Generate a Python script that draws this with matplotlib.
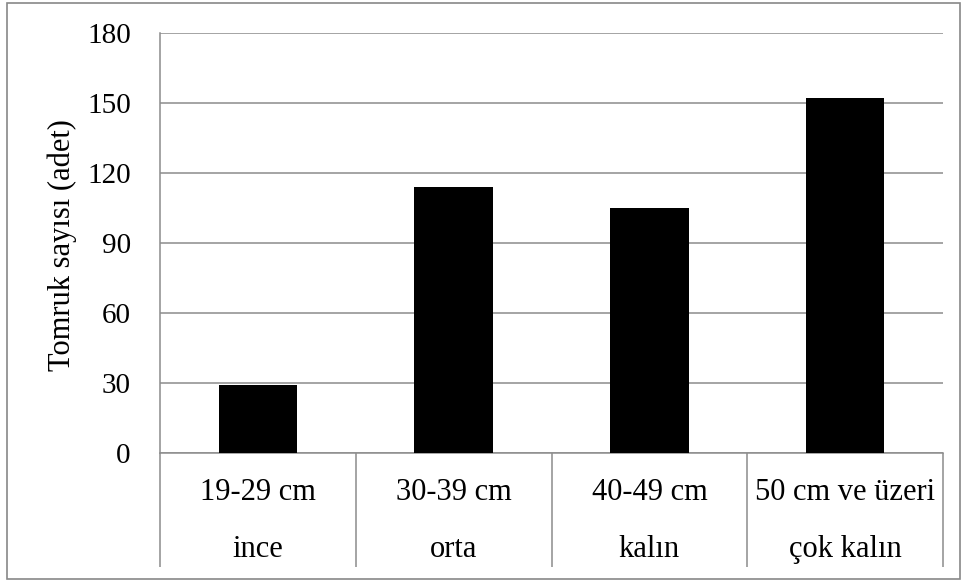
import matplotlib
matplotlib.use("Agg")
import matplotlib.pyplot as plt
from matplotlib.patches import Rectangle

# ── Data ─────────────────────────────────────────────────────────────────────
size_ranges = ["19-29 cm", "30-39 cm", "40-49 cm", "50 cm ve üzeri"]
size_names = ["ince", "orta", "kalın", "çok kalın"]
log_counts = [29, 114, 105, 152]
y_ticks = [0, 30, 60, 90, 120, 150, 180]

GRID = "#8c8c8c"
W, H = 965, 581
plt.rcParams["font.family"] = ["Liberation Serif", "DejaVu Serif"]

fig = plt.figure(figsize=(W / 100, H / 100), dpi=100, facecolor="white")
ax = fig.add_axes([160 / W, 1 - 453 / H, (943 - 160) / W, (453 - 33) / H])

x = list(range(len(log_counts)))
ax.bar(x, log_counts, width=0.4, color="black", zorder=3)

ax.set_xlim(-0.5, len(x) - 0.5)
ax.set_ylim(0, 180)
ax.set_yticks(y_ticks)
ax.tick_params(axis="y", length=0, pad=21, labelsize=21)
ax.grid(axis="y", color=GRID, linewidth=1.1, zorder=0)

# category boundaries as long downward ticks
ax.set_xticks([i - 0.5 for i in range(len(x) + 1)])
ax.set_xticklabels([])
ax.tick_params(axis="x", length=82, width=1.1, color=GRID, direction="out")
for i, (r, n) in enumerate(zip(size_ranges, size_names)):
    ax.text(i, -0.095, r, transform=ax.get_xaxis_transform(), ha="center",
            va="center", fontsize=22)
    ax.text(i, -0.23, n, transform=ax.get_xaxis_transform(), ha="center",
            va="center", fontsize=22)

for s in ["top", "right"]:
    ax.spines[s].set_visible(False)
for s in ["left", "bottom"]:
    ax.spines[s].set_color(GRID)
    ax.spines[s].set_linewidth(1.1)

fig.text(62 / W, 1 - 245 / H, "Tomruk sayısı (adet)", rotation=90,
         ha="center", va="center", fontsize=22)

# outer frame
fig.patches.append(Rectangle((0.007, 0.003), 0.988, 0.992, transform=fig.transFigure,
                             fill=False, edgecolor="#888888", linewidth=1.2))

fig.savefig("out.png", dpi=100, facecolor="white")
